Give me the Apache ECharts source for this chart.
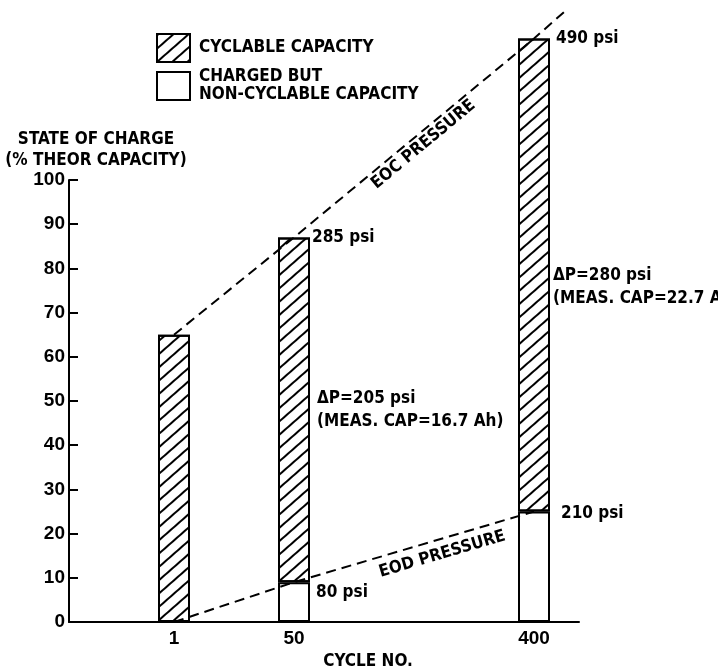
<!DOCTYPE html>
<html><head><meta charset="utf-8">
<script src="https://cdn.jsdelivr.net/npm/echarts@6/dist/echarts.min.js"></script>
<style>html,body{margin:0;padding:0;background:#fff}#chart{width:718px;height:670px}</style>
</head><body><div id="chart"></div>
<script>
// ---- data ----
// cycle axis is not linear: blank slots space the three cycles as in the original
const xSlots = ['', '', '', '1', '', '', '', '50', '', '', '', '', '', '', '', '400', ''];
const cycles = ['1', '50', '400'];
const eocSOC = [65, 87, 132];          // state of charge at end of charge, % theor. capacity
const eodSOC = [0, 9, 25];             // charged but non-cyclable part, % theor. capacity
const eocPressure = [null, 285, 490];  // psi
const eodPressure = [null, 80, 210];   // psi
const deltaP = [null, 205, 280];       // psi
const measCap = [null, 16.7, 22.7];    // Ah
const eocLineEnd = 138;                // EOC pressure line end, just past cycle 400

const NARROW = '"DejaVu Sans Condensed", "Liberation Sans", sans-serif';
const REG = '"Liberation Sans", Arial, sans-serif';
const FS = 17;
const txt = (size, fam) => ({ fontFamily: fam || NARROW, fontWeight: 'bold', fontSize: size, color: '#000' });

const slot = c => xSlots.indexOf(c);
const hatch = { symbol: 'rect', symbolSize: 1, color: '#000', dashArrayX: [1, 0], dashArrayY: [2, 8], rotation: -0.72 };

const nonCyc = cycles.map((c, i) => [slot(c), eodSOC[i]]);
const cyc = cycles.map((c, i) => {
  const item = { value: [slot(c), eocSOC[i] - eodSOC[i]] };
  if (deltaP[i] != null) {
    item.label = { show: true, formatter: '\u0394P=' + deltaP[i] + ' psi\n(MEAS. CAP=' + measCap[i] + ' Ah)',
      distance: i === 1 ? 7 : 3, offset: i === 2 ? [0, 12] : [0, 0] };
  }
  return item;
});
const eocDist = [0, 18, 22], eodDist = [0, 22, 27], eodOff = [[0,0],[0,10],[0,2]];
const eocLine = cycles.map((c, i) => {
  const item = { value: [slot(c), eocSOC[i]] };
  if (eocPressure[i] != null) item.label = { show: true, formatter: eocPressure[i] + ' psi', distance: eocDist[i] };
  return item;
}).concat([{ value: [xSlots.length - 1, eocLineEnd] }]);
const eodLine = cycles.map((c, i) => {
  const item = { value: [slot(c), eodSOC[i]] };
  if (eodPressure[i] != null) item.label = { show: true, formatter: eodPressure[i] + ' psi', distance: eodDist[i], offset: eodOff[i] };
  return item;
});

const chart = echarts.init(document.getElementById('chart'), null, { renderer: 'canvas' });
const dashed = { color: '#000', width: 2, type: [10, 6] };
chart.setOption({
  animation: false,
  backgroundColor: '#fff',
  grid: { left: 69, right: 139, top: 180, bottom: 48, containLabel: false, outerBoundsMode: 'none' },
  legend: {
    orient: 'vertical', left: 156, top: 33, padding: 0, itemWidth: 33, itemHeight: 28, itemGap: 3,
    icon: 'rect', selectedMode: false,
    data: ['CYCLABLE CAPACITY', 'CHARGED BUT\nNON-CYCLABLE CAPACITY'],
    textStyle: Object.assign(txt(FS), { lineHeight: 18, padding: [4, 0, 0, 4] })
  },
  xAxis: {
    type: 'category', data: xSlots, boundaryGap: true,
    axisLine: { lineStyle: { color: '#000', width: 2 } },
    axisTick: { show: false },
    axisLabel: Object.assign(txt(19, REG), { interval: 0, margin: 7 }),
    name: 'CYCLE NO.', nameLocation: 'middle', nameGap: 29,
    nameTextStyle: Object.assign(txt(FS), { padding: [0, 0, 0, 88] })
  },
  yAxis: {
    type: 'value', min: 0, max: 100, interval: 10,
    axisLine: { show: true, lineStyle: { color: '#000', width: 2 } },
    axisTick: { show: true, inside: true, length: 9, lineStyle: { color: '#000', width: 2 } },
    splitLine: { show: false },
    axisLabel: Object.assign(txt(19, REG), { margin: 4 }),
    name: 'STATE OF CHARGE\n(% THEOR CAPACITY)', nameLocation: 'end', nameGap: 2,
    nameTextStyle: Object.assign(txt(FS), { align: 'center', lineHeight: 21, padding: [0, 0, 0, 54] })
  },
  series: [
    { name: 'CHARGED BUT\nNON-CYCLABLE CAPACITY', type: 'bar', stack: 'soc', barWidth: 32, clip: false,
      itemStyle: { color: '#fff', borderColor: '#000', borderWidth: 2 }, data: nonCyc },
    { name: 'CYCLABLE CAPACITY', type: 'bar', stack: 'soc', barWidth: 32, clip: false,
      itemStyle: { color: '#fff', borderColor: '#000', borderWidth: 2, decal: hatch },
      label: Object.assign(txt(FS), { position: 'right', lineHeight: 23 }),
      data: cyc },
    { name: 'EOC', type: 'line', clip: false, z: 5, symbol: 'circle', symbolSize: 0, showSymbol: true,
      itemStyle: { color: '#000' }, lineStyle: dashed,
      label: Object.assign(txt(FS), { position: 'right' }), data: eocLine },
    { name: 'EOD', type: 'line', clip: false, z: 5, symbol: 'circle', symbolSize: 0, showSymbol: true,
      itemStyle: { color: '#000' }, lineStyle: dashed,
      label: Object.assign(txt(FS), { position: 'right' }), data: eodLine }
  ]
});

// rotated captions placed along the pressure lines, from their data points
function caption(text, a, b, t, off) {
  const p1 = chart.convertToPixel({ xAxisIndex: 0, yAxisIndex: 0 }, a);
  const p2 = chart.convertToPixel({ xAxisIndex: 0, yAxisIndex: 0 }, b);
  const dx = p2[0] - p1[0], dy = p2[1] - p1[1], len = Math.hypot(dx, dy);
  const nx = -dy / len, ny = dx / len;
  return { type: 'text', z: 10,
    x: p1[0] + dx * t + nx * off, y: p1[1] + dy * t + ny * off,
    rotation: Math.atan2(-dy, dx),
    style: { text: text, fill: '#000', fontFamily: NARROW, fontWeight: 'bold', fontSize: FS,
      align: 'center', verticalAlign: 'middle', textAlign: 'center', textVerticalAlign: 'middle' } };
}
chart.setOption({ graphic: [
  caption('EOC PRESSURE', [slot('50'), eocSOC[1]], [slot('400'), eocSOC[2]], 0.51, 11),
  caption('EOD PRESSURE', [slot('50'), eodSOC[1]], [slot('400'), eodSOC[2]], 0.6, 15)
] });
</script></body></html>
